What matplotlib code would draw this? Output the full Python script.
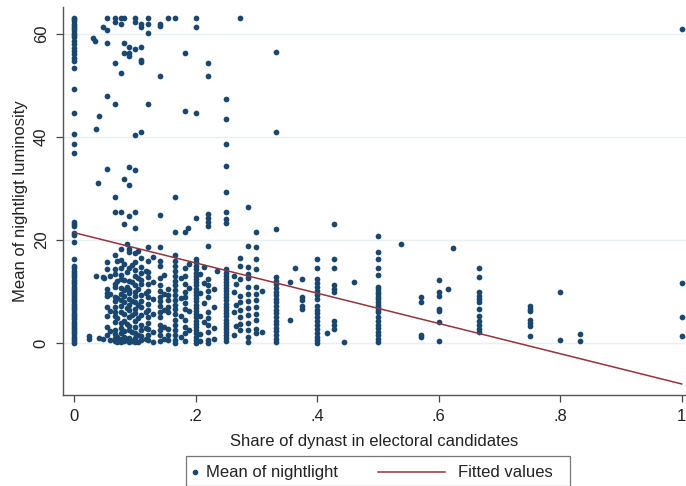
import matplotlib
matplotlib.use("Agg")
import matplotlib.pyplot as plt
from matplotlib.lines import Line2D
from matplotlib.patches import Rectangle

plt.rcParams["font.family"] = ["Liberation Sans", "DejaVu Sans"]

# Districts grouped by the share of dynasts among candidates (x) and their
# mean night-light luminosity (y).
shares = [0.0, 0.054, 0.059, 0.067, 0.071, 0.077, 0.083, 0.087, 0.091, 0.095,
          0.1, 0.105, 0.111, 0.118, 0.122, 0.13, 0.141, 0.148, 0.154, 0.166,
          0.176, 0.182, 0.19, 0.2, 0.208, 0.214, 0.22, 0.23, 0.25, 0.263,
          0.267, 0.273, 0.286, 0.3, 0.31, 0.333, 0.375, 0.4, 0.428, 0.5,
          0.571, 0.6, 0.667, 0.75, 0.8, 0.833, 1.0]

lights = [
    # 0
    [63.1, 62.8, 62.4, 62.0, 61.6, 61.1, 60.7, 60.2, 59.8, 59.3, 58.7, 58.0,
     57.3, 56.7, 56.0, 55.4, 54.8, 53.4, 49.3, 44.7, 40.6, 38.7, 36.8, 23.6,
     23.1, 22.7, 21.4, 20.9, 19.7, 16.4, 14.9, 14.5, 14.1, 13.6, 13.2, 12.8,
     12.3, 11.9, 11.5, 11.0, 10.6, 10.2, 9.8, 9.3, 8.9, 8.5, 8.1, 7.6, 7.2,
     6.8, 6.4, 5.9, 5.5, 5.1, 4.7, 4.2, 3.8, 3.4, 3.0, 2.5, 2.1, 1.7, 1.3,
     0.8, 0.4, 0.1],
    # .054
    [63.0, 60.8, 58.3, 48.0, 33.7, 15.7, 14.3, 10.5, 9.8, 9.1, 7.0, 5.2, 3.1,
     1.5],
    # .059
    [13.0, 9.6, 6.3, 2.3, 0.7],
    # .067
    [63.0, 62.3, 54.4, 46.4, 28.3, 25.4, 17.2, 14.3, 13.5, 11.5, 11.0, 9.0,
     8.2, 7.0, 6.0, 5.2, 4.2, 2.6, 1.8, 1.0, 0.4],
    # .071
    [16.0, 12.0, 8.8, 4.8, 1.2, 0.2],
    # .077
    [63.0, 62.0, 52.4, 25.5, 18.2, 16.2, 14.6, 13.2, 12.5, 10.8, 9.6, 8.4,
     7.3, 6.1, 4.0, 3.0, 1.9, 0.9, 0.3],
    # .083
    [63.0, 58.3, 56.3, 31.9, 23.2, 15.4, 12.2, 10.3, 9.1, 7.9, 5.6, 4.4, 2.4,
     1.2, 0.5],
    # .087
    [19.2, 13.8, 11.0, 6.9, 3.8, 0.9],
    # .091
    [57.5, 56.3, 55.7, 34.1, 30.6, 24.6, 18.2, 17.6, 14.6, 12.0, 10.4, 9.7,
     8.6, 7.4, 6.5, 5.0, 3.4, 2.5, 1.1, 0.3],
    # .095
    [15.2, 11.8, 8.2, 5.4, 2.2, 0.5],
    # .1
    [63.0, 62.3, 57.0, 40.3, 33.5, 25.5, 22.4, 17.4, 15.8, 14.2, 13.0, 11.3,
     10.0, 9.2, 8.0, 6.6, 5.8, 4.4, 3.2, 2.0, 1.0, 0.3],
    # .105
    [17.9, 12.6, 10.6, 7.4, 4.9, 1.6, 0.2],
    # .111
    [62.0, 61.4, 57.5, 55.0, 54.6, 41.0, 16.5, 14.8, 13.6, 12.2, 11.4, 9.4,
     8.1, 7.0, 5.4, 3.6, 2.6, 1.4, 0.6],
    # .118
    [14.0, 9.8, 6.0, 3.0, 0.9],
    # .122
    [63.0, 62.0, 60.2, 46.4, 18.7, 15.9, 13.8, 12.9, 11.4, 10.1, 9.0, 7.6,
     6.4, 5.0, 3.9, 2.8, 1.6, 0.7],
    # .13
    [16.8, 11.8, 8.6, 5.6, 2.2, 0.3],
    # .141
    [62.0, 61.6, 51.9, 24.8, 18.7, 16.0, 15.0, 12.6, 11.3, 10.2, 9.0, 8.1,
     7.2, 6.0, 5.0, 3.6, 2.6, 1.5, 0.4],
    # .148
    [13.3, 9.6, 6.4, 3.2, 0.9],
    # .154
    [63.0, 10.6, 9.4, 8.3, 7.0, 6.0, 2.7, 1.6, 0.6],
    # .166
    [63.0, 28.3, 21.5, 17.2, 16.0, 15.0, 14.0, 13.0, 12.0, 11.2, 10.3, 9.3,
     8.4, 7.5, 6.6, 5.6, 4.6, 3.6, 2.6, 1.6, 0.7, 0.1],
    # .176
    [12.6, 8.8, 5.2, 1.2],
    # .182
    [56.3, 45.0, 21.5, 14.6, 13.0, 11.4, 10.0, 9.0, 7.8, 6.6, 4.5, 3.2, 2.0,
     0.5],
    # .19
    [15.4, 10.8, 6.2, 2.6],
    # .2
    [63.0, 61.4, 44.7, 24.2, 16.3, 15.7, 14.9, 14.3, 13.7, 13.1, 12.5, 11.8,
     11.2, 10.6, 10.0, 9.4, 8.7, 8.1, 7.5, 6.9, 6.3, 5.7, 5.0, 4.4, 3.8, 3.2,
     2.6, 2.0, 1.3, 0.7, 0.1],
    # .208
    [13.4, 9.8, 5.3, 1.8, 0.4],
    # .214
    [14.7, 11.6, 7.8, 4.2],
    # .22
    [54.4, 51.9, 25.0, 24.2, 23.6, 22.8, 18.9, 12.4, 11.2, 10.2, 9.0, 6.0,
     4.8, 3.5, 2.1, 0.6, 0.1],
    # .23
    [10.6, 7.0, 3.0, 0.9],
    # .25
    [47.4, 43.5, 38.7, 34.3, 29.4, 25.5, 24.0, 23.4, 14.3, 13.7, 13.1, 12.5,
     11.9, 11.3, 10.7, 10.1, 9.5, 8.9, 8.3, 7.7, 7.1, 6.5, 5.8, 5.2, 4.6, 4.0,
     3.4, 2.8, 2.2, 1.6, 1.0, 0.4],
    # .263
    [13.0, 9.9, 6.0, 1.5],
    # .267
    [11.5, 7.5, 3.3],
    # .273
    [63.0, 16.6, 15.0, 12.4, 9.2, 8.0, 6.5, 5.0, 3.8, 2.5],
    # .286
    [26.5, 18.9, 14.7, 13.5, 12.6, 11.0, 9.6, 8.2, 6.9, 5.4, 4.0, 2.6, 1.2,
     0.2],
    # .3
    [21.5, 18.6, 16.3, 14.3, 10.9, 9.6, 8.3, 7.0, 5.6, 4.5, 2.7, 2.0],
    # .31
    [10.2, 2.2],
    # .333
    [56.5, 41.0, 22.2, 12.8, 12.1, 11.4, 10.7, 10.0, 9.3, 8.6, 7.9, 7.2, 6.5,
     5.8, 5.1, 4.4, 3.7, 3.0, 2.3, 1.6, 0.9, 0.2],
    # .375
    [12.4, 9.0, 8.3, 7.3, 6.6],
    # .4
    [16.3, 14.6, 12.4, 11.6, 10.9, 10.1, 9.3, 8.5, 7.2, 6.5, 5.8, 5.0, 4.3,
     3.5, 2.8, 2.0, 1.3, 0.6, 0.1],
    # .428
    [23.2, 16.3, 14.6, 11.3, 10.6, 9.9, 4.3, 3.6, 2.7],
    # .5
    [20.8, 17.6, 16.3, 14.6, 13.2, 11.0, 10.5, 10.0, 9.5, 9.0, 8.5, 8.0, 7.5,
     7.0, 6.5, 6.0, 5.0, 4.3, 3.6, 2.9, 2.2, 1.5, 0.8, 0.2],
    # .571
    [9.0, 7.9, 1.6, 1.3],
    # .6
    [12.2, 9.9, 9.1, 6.6, 6.2, 4.1, 0.4],
    # .667
    [14.5, 12.8, 9.9, 9.2, 8.5, 7.9, 6.6, 5.2, 4.4, 3.6, 2.8, 2.1],
    # .75
    [7.2, 6.7, 6.2, 4.6, 3.9, 3.3, 1.4],
    # .8
    [9.9, 0.6],
    # .833
    [1.7, 0.4],
    # 1
    [60.9, 11.6, 5.0, 1.4],
]

# Districts that do not sit on one of the common share values
loose_share = [0.024, 0.024, 0.031, 0.034, 0.036, 0.036, 0.039, 0.041, 0.041,
               0.047, 0.047, 0.047, 0.05, 0.187, 0.236, 0.355, 0.355, 0.363,
               0.416, 0.444, 0.461, 0.538, 0.615, 0.623]
loose_light = [1.4, 0.8, 59.2, 58.6, 41.6, 13.0, 31.0, 44.1, 1.0,
               61.4, 12.9, 0.8, 12.6, 22.4, 14.0, 11.8, 4.6, 14.6,
               2.0, 0.3, 11.9, 19.3, 10.6, 18.5]

# Linear fit of luminosity on dynast share, evaluated at the ends of the range
fit_share = [0.0, 1.0]
fit_light = [21.45, -7.9]

NAVY = "#1a476f"
MAROON = "#90353b"
TEXT = "#222222"

x_all = [s for s, ys in zip(shares, lights) for _ in ys] + loose_share
y_all = [y for ys in lights for y in ys] + loose_light

fig = plt.figure(figsize=(6.86, 4.86), dpi=100)
ax = fig.add_axes([0.0914, 0.1866, 0.9086, 0.799])

ax.scatter(x_all, y_all, s=17, color=NAVY, linewidths=0, zorder=3,
           clip_on=False)
ax.plot(fit_share, fit_light, color=MAROON, lw=1.1, zorder=4)

ax.set_xlim(-0.0185, 1.007)
ax.set_ylim(-10.1, 65.2)

ax.set_xticks([0, 0.2, 0.4, 0.6, 0.8, 1])
ax.set_xticklabels(["0", ".2", ".4", ".6", ".8", "1"])
ax.set_yticks([0, 20, 40, 60])
ax.set_yticklabels(["0", "20", "40", "60"], rotation=90, va="center")
ax.tick_params(axis="both", direction="out", length=5, width=0.9,
               colors="#444444", labelcolor=TEXT, labelsize=12, pad=5)

ax.yaxis.grid(True, color="#e8f0f3", lw=1.0, zorder=0)
ax.set_axisbelow(True)

for side in ("top", "right"):
    ax.spines[side].set_visible(False)
for side in ("left", "bottom"):
    ax.spines[side].set_color("#555555")
    ax.spines[side].set_linewidth(1.0)

ax.set_xlabel("Share of dynast in electoral candidates", fontsize=12,
              color=TEXT, labelpad=7)
ax.set_ylabel("Mean of nightligt luminosity", fontsize=12, color=TEXT,
              labelpad=4)

# Stata-style legend box below the plot
fig.add_artist(Rectangle((186 / 686, 0.0), (570 - 186) / 686, 30 / 486,
                         transform=fig.transFigure, fill=False,
                         edgecolor="#777777", lw=0.9))
fig.add_artist(Line2D([195 / 686], [14 / 486], marker="o", markersize=3,
                      color=NAVY, linestyle="none",
                      transform=fig.transFigure))
fig.text(206 / 686, 14 / 486, "Mean of nightlight", fontsize=12,
         color=TEXT, va="center", ha="left")
fig.add_artist(Line2D([378 / 686, 445 / 686], [14 / 486, 14 / 486],
                      color=MAROON, lw=1.1, transform=fig.transFigure))
fig.text(458 / 686, 14 / 486, "Fitted values", fontsize=12,
         color=TEXT, va="center", ha="left")

fig.savefig("out.png", dpi=100)
